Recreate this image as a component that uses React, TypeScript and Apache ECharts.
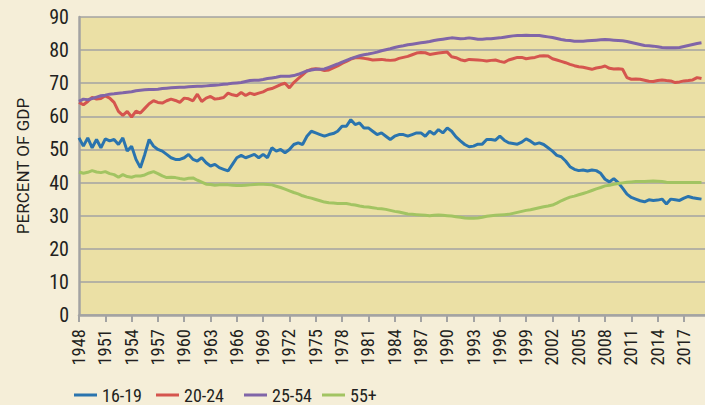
import React, { useEffect, useRef } from "react";
import * as echarts from "echarts";

// Half-yearly readings, starting 1948.0, step 0.5 year
const START_YEAR = 1948;
const STEP_YEARS = 0.5;

const seriesNames = ["16-19", "20-24", "25-54", "55+"];

const age16to19 = [
  53.5, 51, 53.5, 50.5, 53, 50.5, 53.2, 52.6, 53, 51.5,
  53.5, 49.5, 51, 47, 44.5, 48.5, 53, 51, 50, 49.5,
  48.5, 47.5, 47, 47, 47.5, 48.5, 47, 46.5, 47.5, 46,
  45, 45.5, 44.5, 44, 43.5, 45.5, 47.5, 48.2, 47.5, 48,
  48.5, 47.5, 48.5, 47.5, 50.5, 49.5, 50, 49, 50, 51.5,
  52, 51.5, 54, 55.5, 55, 54.5, 54, 54.5, 54.8, 55.5,
  57, 57, 59, 57.5, 58, 56.5, 56.5, 55.5, 54.5, 55,
  54, 53, 54, 54.5, 54.5, 54, 54.5, 55, 55, 54,
  55.5, 54.6, 56, 55, 56.5, 55.5, 53.8, 52.6, 51.5, 50.8,
  51, 51.6, 51.6, 53, 53, 52.8, 54, 52.8, 52, 51.8,
  51.6, 52.2, 53.2, 52.5, 51.6, 52, 51.5, 50.5, 49.5, 48.2,
  47.8, 46.5, 44.8, 44, 43.6, 43.8, 43.5, 43.8, 43.6, 42.8,
  41, 40.2, 41.2, 40, 38.3, 36.5, 35.5, 35, 34.5, 34.2,
  34.8, 34.6, 34.7, 35, 33.5, 35, 34.8, 34.6, 35.3, 35.8,
  35.4, 35.2, 35,
];

const age20to24 = [
  64.2, 63.5, 64.5, 65.7, 65.2, 65.4, 66.2, 65.5, 64.2, 61.5,
  60.3, 61.5, 59.8, 61.6, 61, 62.4, 63.8, 64.7, 64.2, 64,
  64.7, 65.2, 64.8, 64.2, 65.5, 65.3, 64.7, 66.7, 64.5, 65.5,
  66, 65.2, 65.4, 65.7, 67, 66.5, 66.2, 67.2, 66.3, 67,
  66.6, 67, 67.4, 68.1, 68.4, 69, 69.6, 70, 68.6, 70.2,
  71.4, 72.5, 73.7, 74.2, 74.4, 74.2, 73.8, 74, 74.6, 75.2,
  76, 76.6, 77.3, 77.7, 77.7, 77.5, 77.3, 77, 77.1, 77.2,
  77, 76.9, 77, 77.5, 77.8, 78.1, 78.6, 79.1, 79.3, 79.2,
  78.7, 78.9, 79.1, 79.3, 79.4, 78, 77.7, 77.1, 76.8, 77.2,
  77.1, 77, 76.9, 76.7, 76.9, 77, 76.6, 76.3, 77, 77.4,
  77.8, 77.8, 77.4, 77.6, 77.8, 78.2, 78.3, 78.2, 77.4, 77,
  76.6, 76.2, 75.7, 75.3, 75, 74.8, 74.5, 74.2, 74.6, 74.8,
  75.2, 74.5, 74.3, 74.4, 74.2, 71.7, 71.2, 71.3, 71.2, 70.9,
  70.6, 70.5, 70.8, 71, 70.8, 70.7, 70.2, 70.4, 70.7, 70.8,
  71, 71.7, 71.4,
];

const age25to54 = [
  64.5, 65.2, 65, 65.4, 65.8, 66.2, 66.4, 66.7, 66.8, 67,
  67.1, 67.3, 67.4, 67.7, 67.9, 68, 68.1, 68.1, 68.2, 68.4,
  68.5, 68.6, 68.7, 68.8, 68.8, 68.9, 69, 69.1, 69.1, 69.2,
  69.3, 69.4, 69.5, 69.7, 69.8, 70, 70.1, 70.2, 70.5, 70.8,
  70.9, 70.9, 71.1, 71.4, 71.6, 71.8, 72.1, 72.1, 72.1, 72.3,
  72.7, 73.2, 73.7, 74, 74.2, 74.2, 74.3, 74.8, 75.3, 75.8,
  76.4, 76.9, 77.4, 77.9, 78.3, 78.6, 78.8, 79.1, 79.4, 79.8,
  80.1, 80.4, 80.8, 81.1, 81.3, 81.6, 81.8, 82, 82.2, 82.4,
  82.6, 82.9, 83.1, 83.3, 83.5, 83.7, 83.6, 83.4, 83.5, 83.7,
  83.5, 83.3, 83.3, 83.4, 83.4, 83.6, 83.7, 83.9, 84.1, 84.3,
  84.4, 84.4, 84.5, 84.4, 84.4, 84.4, 84.2, 84, 83.8, 83.5,
  83.2, 83, 82.9, 82.7, 82.7, 82.7, 82.8, 82.9, 83, 83.1,
  83.2, 83.1, 83, 82.9, 82.8, 82.6, 82.3, 82, 81.7, 81.4,
  81.3, 81.2, 81, 80.8, 80.7, 80.7, 80.7, 80.8, 81.1, 81.4,
  81.7, 82, 82.2,
];

const age55plus = [
  43.2, 42.8, 43.1, 43.6, 43.2, 43, 43.3, 42.7, 42.4, 41.6,
  42.4, 41.8, 41.6, 42, 42, 42.3, 42.9, 43.3, 42.7, 42,
  41.5, 41.6, 41.5, 41.2, 41, 41.3, 41.4, 40.7, 40.1, 39.5,
  39.4, 39.2, 39.3, 39.3, 39.3, 39.2, 39.1, 39.1, 39.2, 39.3,
  39.4, 39.5, 39.5, 39.4, 39.3, 38.9, 38.5, 38, 37.5, 37,
  36.6, 36, 35.6, 35.3, 34.9, 34.5, 34.1, 33.9, 33.8, 33.7,
  33.7, 33.7, 33.4, 33.2, 32.9, 32.7, 32.6, 32.4, 32.2, 32.1,
  31.9, 31.6, 31.3, 31.1, 30.8, 30.5, 30.4, 30.3, 30.2, 30.1,
  30, 30.1, 30.2, 30.1, 30, 29.9, 29.7, 29.5, 29.3, 29.2,
  29.2, 29.3, 29.5, 29.8, 30, 30.1, 30.2, 30.3, 30.4, 30.7,
  31, 31.3, 31.6, 31.8, 32.1, 32.4, 32.7, 32.9, 33.2, 33.8,
  34.5, 35.1, 35.6, 35.9, 36.3, 36.7, 37.1, 37.6, 38.1, 38.5,
  39, 39.2, 39.5, 39.7, 39.9, 40.1, 40.2, 40.3, 40.3, 40.3,
  40.4, 40.5, 40.4, 40.3, 40.1, 40, 40, 40, 40, 40,
  40, 40, 40,
];

const seriesValues = [age16to19, age20to24, age25to54, age55plus];
const seriesColors = ["#2A74AE", "#D5554E", "#8065A8", "#A2C462"];

const X_MIN = 1948;
const X_MAX = 2019.4;
const X_INTERVAL = 3;
const Y_MIN = 0;
const Y_MAX = 90;
const Y_INTERVAL = 10;
const Y_NAME = "PERCENT OF GDP";

const FONT = "'Roboto Condensed', 'DejaVu Sans Condensed', sans-serif";
const NAME_FONT = "Roboto, 'DejaVu Sans', sans-serif";
const TEXT_COLOR = "#231F20";
const AXIS_GRAY = "#A3A3A3";

// left edge (px) of each legend entry
const LEGEND_LEFTS = [69, 151, 239, 317];

export default function App() {
  const ref = useRef<HTMLDivElement>(null);

  useEffect(() => {
    if (!ref.current) return;
    const chart = echarts.init(ref.current, null, { renderer: "svg" });

    const series = seriesNames.map((name, si) => ({
      name,
      type: "line",
      showSymbol: false,
      symbol: "none",
      color: seriesColors[si],
      lineStyle: { width: 3, color: seriesColors[si] },
      data: seriesValues[si].map((v, i) => [START_YEAR + i * STEP_YEARS, v]),
    }));

    const legends = seriesNames.map((name, i) => ({
      data: [name],
      left: LEGEND_LEFTS[i],
      top: 381,
      icon: "rect",
      itemWidth: 23,
      itemHeight: 3,
      textStyle: { fontSize: 18, color: TEXT_COLOR, fontFamily: FONT },
    }));

    chart.setOption({
      animation: false,
      backgroundColor: "#F5EED8",
      textStyle: { fontFamily: FONT },
      grid: {
        left: 79,
        top: 17,
        right: 0,
        bottom: 90,
        show: true,
        backgroundColor: "#EBE0A5",
        borderWidth: 0,
      },
      legend: legends,
      xAxis: {
        type: "value",
        min: X_MIN,
        max: X_MAX,
        interval: X_INTERVAL,
        axisLine: { show: true, lineStyle: { color: AXIS_GRAY, width: 2.5 } },
        axisTick: { show: true, length: 7, lineStyle: { color: AXIS_GRAY, width: 2 } },
        splitLine: { show: false },
        axisLabel: {
          rotate: 90,
          margin: 14,
          fontSize: 18.5,
          color: TEXT_COLOR,
          fontFamily: FONT,
          showMaxLabel: false,
          formatter: (v: number) => String(Math.round(v)),
        },
      },
      yAxis: {
        type: "value",
        min: Y_MIN,
        max: Y_MAX,
        interval: Y_INTERVAL,
        name: Y_NAME,
        nameLocation: "middle",
        nameGap: 48,
        nameTextStyle: { fontSize: 17, color: TEXT_COLOR, fontFamily: NAME_FONT },
        axisLine: { show: true, lineStyle: { color: AXIS_GRAY, width: 2.5 } },
        axisTick: { show: false },
        splitLine: { show: true, lineStyle: { color: AXIS_GRAY, width: 1.5 } },
        axisLabel: { fontSize: 20, margin: 10, color: TEXT_COLOR, fontFamily: FONT },
      },
      series,
    });

    return () => chart.dispose();
  }, []);

  return (
    <div
      ref={ref}
      style={{ position: "fixed", left: 0, top: 0, width: 705, height: 405 }}
    />
  );
}
